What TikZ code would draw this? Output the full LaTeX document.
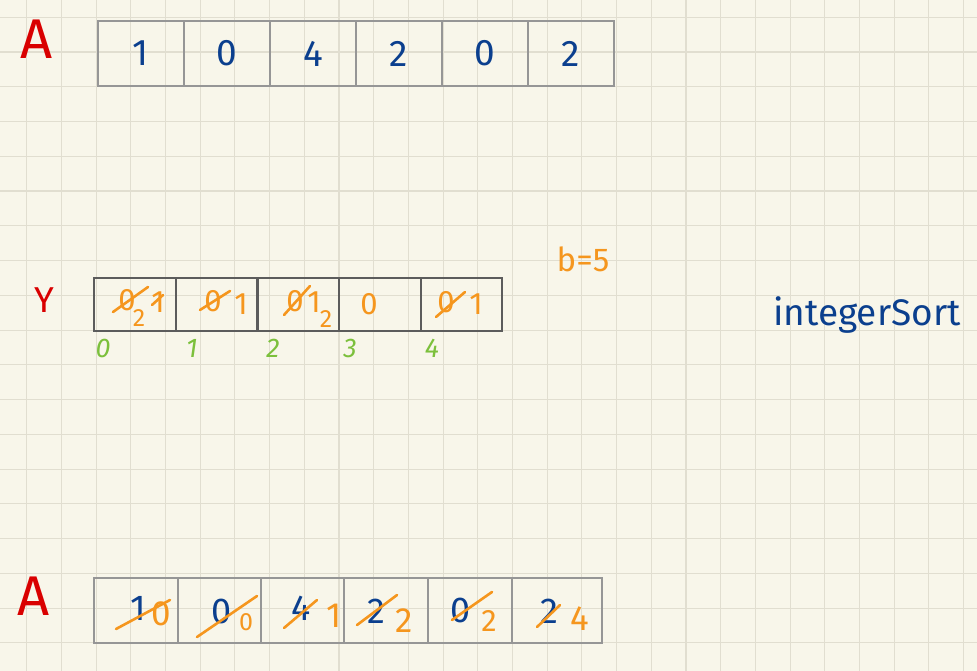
\documentclass[tikz,border=0pt]{standalone}
\usepackage{fontspec}
\setmainfont{Fira Sans}
\definecolor{paper}{HTML}{F8F6EA}
\definecolor{gridc}{HTML}{E1DED0}
\definecolor{ink}{HTML}{0B3F8E}
\definecolor{hl}{HTML}{F5961E}
\definecolor{redink}{HTML}{D90000}
\definecolor{greenink}{HTML}{7CC03C}
\definecolor{boxlight}{HTML}{969696}
\definecolor{boxdark}{HTML}{5C5C5C}
\tikzset{
  gridline/.style={gridc, line width=1.1pt},
  cellT/.style={draw=boxlight, line width=1.8pt, inner sep=0pt, text=ink, font=\fontsize{37}{39}\selectfont},
  cellY/.style={draw=boxdark, line width=2.2pt, inner sep=0pt, minimum width=81.6pt, minimum height=53pt},
  bluedig/.style={inner sep=0pt, text=ink, font=\fontsize{36}{38}\selectfont},
  orgdig/.style={inner sep=0pt, text=hl, font=\fontsize{31}{33}\selectfont},
  orgbig/.style={inner sep=0pt, text=hl, font=\fontsize{35}{37}\selectfont},
  orgsmall/.style={inner sep=0pt, text=hl, font=\fontsize{25}{27}\selectfont},
  idx/.style={inner sep=0pt, text=greenink, font=\fontsize{27}{29}\selectfont\itshape},
  strike/.style={hl, line width=2.6pt, line cap=round},
  redlabel/.style={inner sep=0pt, text=redink},
}
\begin{document}
\begin{tikzpicture}[x=1pt,y=-1pt]
\fill[paper] (0,0) rectangle (977,671);
\useasboundingbox (0,0) rectangle (977,671);
% grid
\foreach \i in {0,...,27} \draw[gridline] ({26.7+34.7*\i},0) -- ({26.7+34.7*\i},671);
\foreach \j in {0,...,18} \draw[gridline] (0,{17.3+34.75*\j}) -- (977,{17.3+34.75*\j});

% labels
\node[redlabel, font=\fontsize{56}{58}\selectfont] (A1) at (37,39) {A};
\node[redlabel, font=\fontsize{56}{58}\selectfont] (A2) at (34,596) {A};
\node[redlabel, font=\fontsize{36}{38}\selectfont] (Ylab) at (44,300) {Y};
\node[inner sep=0pt, text=hl, font=\fontsize{33}{35}\selectfont] (b5) at (583,259) {b=5};
\node[inner sep=0pt, text=ink, font=\fontsize{37}{39}\selectfont] (isort) at (867,315) {integerSort};

% top array A
\foreach \v [count=\k from 0] in {1,0,4,2,0,2}
  \node[cellT, minimum width=86pt, minimum height=65pt] (t\k) at ({141+86*\k},53.5) {\v};

% array Y
\foreach \k in {0,...,4}
  \node[cellY] (y\k) at ({135+81.6*\k},304.5) {};
\foreach \v/\x/\n in {0/103/i0,1/192/i1,2/273/i2,3/350/i3,4/432/i4}
  \node[idx] (\n) at (\x,348) {\v};

% Y contents
\node[orgdig] (ya) at (127,300) {0};
\node[orgsmall] (yb) at (139,318) {2};
\node[orgdig] (yc) at (158,302) {1};
\draw[strike] (113,312) -- (148,287);
\draw[strike] (152,305) -- (163,295);
\node[orgdig] (yd) at (213,301) {0};
\node[orgdig] (ye) at (241,304) {1};
\draw[strike] (200,310) -- (230,291);
\node[orgdig] (yf) at (295,301) {0};
\node[orgdig] (yg) at (314,302) {1};
\node[orgsmall] (yh) at (326,319) {2};
\draw[strike] (284,315) -- (310,286);
\node[orgdig] (yi) at (369,304) {0};
\node[orgdig] (yj) at (446,302) {0};
\node[orgdig] (yk) at (476,304) {1};
\draw[strike] (436,317) -- (465,292);

% bottom array A
\foreach \xx/\ww [count=\k from 0] in {136/84,219.5/84,302.5/84,386/84,470/84,557/90}
  \node[cellT, minimum width=\ww pt, minimum height=65pt] (u\k) at (\xx,610.5) {};

\node[bluedig] (ba0) at (138,608) {1};
\node[orgbig] (bo0) at (161,614) {0};
\draw[strike] (116,629) -- (170,600);

\node[bluedig] (ba1) at (222,611) {0};
\node[orgsmall] (bo1) at (246,622) {0};
\draw[strike] (197,637) -- (257,596);

\node[bluedig] (ba2) at (301,608) {4};
\node[orgbig] (bo2) at (334,616) {1};
\draw[strike] (284,628) -- (317,600);

\node[bluedig] (ba3) at (376,611) {2};
\node[orgbig] (bo3) at (404,621) {2};
\draw[strike] (357,625) -- (397,595);

\node[bluedig] (ba4) at (461,610) {0};
\node[orgdig] (bo4) at (489,621) {2};
\draw[strike] (452,620) -- (492,592);

\node[bluedig] (ba5) at (549,611) {2};
\node[orgbig] (bo5) at (580,619) {4};
\draw[strike] (537,627) -- (560,605);
\end{tikzpicture}
\end{document}
